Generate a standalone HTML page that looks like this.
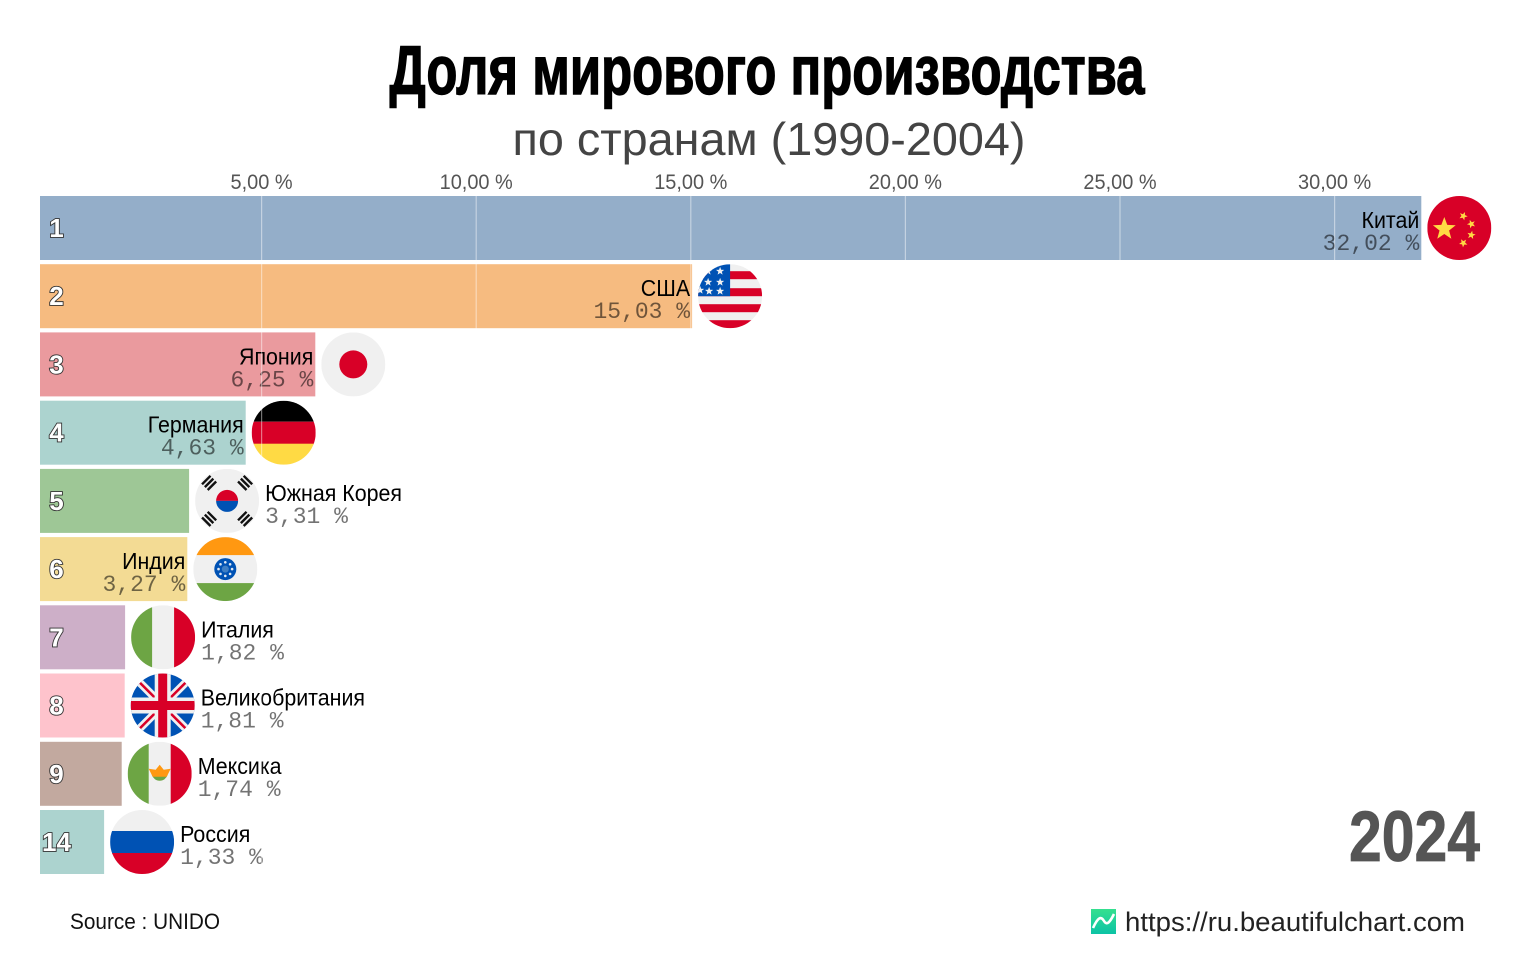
<!DOCTYPE html>
<html lang="ru">
<head>
<meta charset="utf-8">
<title>Доля мирового производства</title>
<style>
html,body{margin:0;padding:0;background:#fff;width:1536px;height:960px;overflow:hidden}
svg{display:block}
text{font-family:"Liberation Sans",sans-serif}
</style>
</head>
<body>
<svg id="chart" width="1536" height="960" viewBox="0 0 1536 960" xmlns="http://www.w3.org/2000/svg">
  <defs>
    <clipPath id="flag-clip"><circle cx="0" cy="0" r="32"/></clipPath>
    <linearGradient id="logo-grad" x1="0" y1="0" x2="0" y2="1"><stop offset="0" stop-color="#35e08f"/><stop offset="1" stop-color="#0cc3a5"/></linearGradient>
  </defs>
  <text x="767" y="94" text-anchor="middle" textLength="755" lengthAdjust="spacingAndGlyphs" style="font-family:'Liberation Sans Narrow','Liberation Sans',sans-serif;font-weight:700;font-size:69px;fill:#000;stroke:#000;stroke-width:1.4px">Доля мирового производства</text>
  <text x="769" y="155" text-anchor="middle" textLength="513" lengthAdjust="spacingAndGlyphs" style="font-size:46px;fill:#444">по странам (1990-2004)</text>
  <g id="bars"></g>
  <g id="flags"></g>
  <g id="labels"></g>
  <g id="axis"></g>
  <text x="1349" y="861" textLength="131" lengthAdjust="spacingAndGlyphs" style="font-family:'Liberation Sans Narrow','Liberation Sans',sans-serif;font-weight:700;font-size:71px;fill:#555;stroke:#555;stroke-width:.8px">2024</text>
  <text x="70" y="929" textLength="150" lengthAdjust="spacingAndGlyphs" style="font-size:22px;fill:#111">Source : UNIDO</text>
  <g>
    <rect x="1091" y="909" width="25" height="25" fill="url(#logo-grad)"/>
    <path d="M1093 928 C1098 917 1101 916 1104 921 C1107 926 1110 922 1114 914" fill="none" stroke="#fff" stroke-width="2.6"/>
  </g>
  <text x="1125" y="931" textLength="340" lengthAdjust="spacingAndGlyphs" style="font-size:27px;fill:#222">https://ru.beautifulchart.com</text>
</svg>
<script>
const countries = ['Китай','США','Япония','Германия','Южная Корея','Индия','Италия','Великобритания','Мексика','Россия'];
const shares = [32.02,15.03,6.25,4.63,3.31,3.27,1.82,1.81,1.74,1.33];
const ranks = [1,2,3,4,5,6,7,8,9,14];
const labelInside = [true,true,true,true,false,true,false,false,false,false];
const flagKeys = ['cn','us','jp','de','kr','in','it','gb','mx','ru'];
const barColors = ['#94aec9','#f6bb80','#ea9a9e','#acd3cf','#9ec796','#f3db94','#cdafc8','#fec3cc','#c2a99f','#acd3cf'];
const tickValues = [5,10,15,20,25,30];
const tickLabels = ['5,00 %','10,00 %','15,00 %','20,00 %','25,00 %','30,00 %'];

const NS = 'http://www.w3.org/2000/svg';
const X_ZERO = 47, X_SCALE = 42.92, PLOT_LEFT = 40;
const ROW_TOP = 196, ROW_STEP = 68.22, BAR_H = 64, FLAG_R = 32, FLAG_GAP = 6;
const LABEL_SQUEEZE = 0.93, TICK_SQUEEZE = 0.95;
function xScale(v){ return X_ZERO + X_SCALE * v; }
function yScale(i){ return ROW_TOP + ROW_STEP * i; }
function fmt(v){ return v.toFixed(2).replace('.', ',') + ' %'; }
function make(tag, attrs, parent, txt){
  const el = document.createElementNS(NS, tag);
  for (const k in attrs) el.setAttribute(k, attrs[k]);
  if (txt !== undefined) el.textContent = txt;
  parent.appendChild(el);
  return el;
}
function squeeze(el, factor){
  el.setAttribute('textLength', (el.getComputedTextLength() * factor).toFixed(1));
  el.setAttribute('lengthAdjust', 'spacingAndGlyphs');
}
function star(cx, cy, r, rot){
  let p = [];
  for (let i = 0; i < 10; i++){
    const a = (rot || 0) - Math.PI / 2 + i * Math.PI / 5, q = i % 2 ? r * 0.42 : r;
    p.push((cx + q * Math.cos(a)).toFixed(2) + ',' + (cy + q * Math.sin(a)).toFixed(2));
  }
  return p.join(' ');
}
const RED = '#d80027', WHITE = '#f0f0f0', BLUE = '#0052b4', GREEN = '#6da544', GOLD = '#ffda44', SAFF = '#ff9811';
const flagArt = {
  cn(){ return `<rect x="-32" y="-32" width="64" height="64" fill="${RED}"/>
    <polygon points="${star(-15,1,12)}" fill="${GOLD}"/>
    <polygon points="${star(4,-12,4.4,.4)}" fill="${GOLD}"/><polygon points="${star(12,-4,4.4,.9)}" fill="${GOLD}"/>
    <polygon points="${star(12,7,4.4,.2)}" fill="${GOLD}"/><polygon points="${star(4,15,4.4,.7)}" fill="${GOLD}"/>`; },
  us(){ let s = `<rect x="-32" y="-32" width="64" height="64" fill="${WHITE}"/>`;
    [-25,-8,8,24].forEach(y => { s += `<rect x="-32" y="${y}" width="64" height="8" fill="${RED}"/>`; });
    s += `<rect x="-32" y="-32" width="32" height="32" fill="${BLUE}"/>`;
    [[-10,-25],[-22,-14],[-10,-14],[-30,-6],[-21,-5],[-10,-5],[-22,-25]].forEach(p => { s += `<polygon points="${star(p[0],p[1],4.3)}" fill="${WHITE}"/>`; });
    return s; },
  jp(){ return `<rect x="-32" y="-32" width="64" height="64" fill="${WHITE}"/><circle r="14" fill="${RED}"/>`; },
  de(){ return `<rect x="-32" y="-32" width="64" height="21" fill="#000"/><rect x="-32" y="-11" width="64" height="23" fill="${RED}"/><rect x="-32" y="11" width="64" height="21" fill="${GOLD}"/>`; },
  kr(){ let s = `<rect x="-32" y="-32" width="64" height="64" fill="${WHITE}"/>
    <path d="M-11 0A11 11 0 0 1 11 0Z" fill="${RED}"/><path d="M-11 0A11 11 0 0 0 11 0Z" fill="${BLUE}"/>`;
    [[-45,-18,-18],[45,18,-18],[45,-18,18],[-45,18,18]].forEach(t => {
      s += `<g transform="translate(${t[1]} ${t[2]}) rotate(${t[0]})" fill="#111"><rect x="-6" y="-5.2" width="12" height="2.4"/><rect x="-6" y="-1.2" width="12" height="2.4"/><rect x="-6" y="2.8" width="12" height="2.4"/></g>`;
    });
    return s; },
  in(){ let s = `<rect x="-32" y="-32" width="64" height="64" fill="${WHITE}"/><rect x="-32" y="-32" width="64" height="18" fill="${SAFF}"/><rect x="-32" y="14" width="64" height="18" fill="${GREEN}"/>
    <circle r="11" fill="${BLUE}"/><circle r="3.5" fill="#3f7fc4"/>`;
    for (let a = 0; a < 8; a++){ s += `<circle cx="${(6.8*Math.cos(a*Math.PI/4)).toFixed(2)}" cy="${(6.8*Math.sin(a*Math.PI/4)).toFixed(2)}" r="1.3" fill="#dfe8f2"/>`; }
    return s; },
  it(){ return `<rect x="-32" y="-32" width="64" height="64" fill="${WHITE}"/><rect x="-32" y="-32" width="21" height="64" fill="${GREEN}"/><rect x="11" y="-32" width="21" height="64" fill="${RED}"/>`; },
  gb(){ return `<rect x="-32" y="-32" width="64" height="64" fill="${BLUE}"/>
    <path d="M-32 -32L32 32M32 -32L-32 32" stroke="${WHITE}" stroke-width="8"/>
    <path d="M-27 -27L-8 -8M27 27L8 8M27 -27L8 -8M-27 27L-8 8" stroke="${RED}" stroke-width="2.6"/>
    <rect x="-8" y="-32" width="16" height="64" fill="${WHITE}"/><rect x="-32" y="-8" width="64" height="16" fill="${WHITE}"/>
    <rect x="-4.5" y="-32" width="9" height="64" fill="${RED}"/><rect x="-32" y="-4.5" width="64" height="9" fill="${RED}"/>`; },
  mx(){ return `<rect x="-32" y="-32" width="64" height="64" fill="${WHITE}"/><rect x="-32" y="-32" width="21" height="64" fill="${GREEN}"/><rect x="11" y="-32" width="21" height="64" fill="${RED}"/>
    <path d="M-8 1A8.5 9 0 0 0 8 1Z" fill="${GREEN}"/><path d="M-11 -5L-4 -4L0 -9L4 -4L11 -5L7 3L-7 3Z" fill="${SAFF}"/>`; },
  ru(){ return `<rect x="-32" y="-32" width="64" height="21" fill="${WHITE}"/><rect x="-32" y="-11" width="64" height="23" fill="${BLUE}"/><rect x="-32" y="11" width="64" height="21" fill="${RED}"/>`; }
};

const gBars = document.getElementById('bars');
const gFlags = document.getElementById('flags');
const gLabels = document.getElementById('labels');
const gAxis = document.getElementById('axis');

countries.forEach((name, i) => {
  const end = xScale(shares[i]), top = yScale(i), flagCx = end + FLAG_GAP + FLAG_R;

  const bar = make('rect', {x: PLOT_LEFT, y: top.toFixed(1), width: (end - PLOT_LEFT).toFixed(1), height: BAR_H, fill: barColors[i]}, gBars);
  
  

  const rank = make('text', {x: 56.5, y: (top + 41).toFixed(1), 'text-anchor': 'middle', style: 'font-weight:700;font-size:26px;fill:#fff;stroke:#333;stroke-width:1.8px;paint-order:stroke'}, gBars, ranks[i]);
  
  

  const flag = make('g', {transform: `translate(${flagCx.toFixed(1)} ${(top + BAR_H / 2).toFixed(1)})`, 'clip-path': 'url(#flag-clip)'}, gFlags);
  
  
  flag.innerHTML = flagArt[flagKeys[i]]();

  const inside = labelInside[i];
  const lx = inside ? end - 2 : flagCx + FLAG_R + FLAG_GAP;
  const anchor = inside ? 'end' : 'start';
  const lab = make('text', {x: lx.toFixed(1), y: (top + 32).toFixed(1), 'text-anchor': anchor, style: 'font-size:23px;fill:#000'}, gLabels, name);
  
  
  squeeze(lab, LABEL_SQUEEZE);

  const val = make('text', {x: lx.toFixed(1), y: (top + 54).toFixed(1), 'text-anchor': anchor, style: 'font-family:"Liberation Mono",monospace;font-size:23px;fill:#000;fill-opacity:.55'}, gLabels, fmt(shares[i]));
  
  
});

tickValues.forEach((t, i) => {
  const x = xScale(t);
  const line = make('line', {x1: x.toFixed(1), x2: x.toFixed(1), y1: ROW_TOP, y2: 874, stroke: '#fff', 'stroke-opacity': .45, 'stroke-width': 1.2}, gAxis);
  
  
  const lab = make('text', {x: x.toFixed(1), y: 189, 'text-anchor': 'middle', style: 'font-size:21px;fill:#555'}, gAxis, tickLabels[i]);
  
  
  squeeze(lab, TICK_SQUEEZE);
});
</script>
</body>
</html>
